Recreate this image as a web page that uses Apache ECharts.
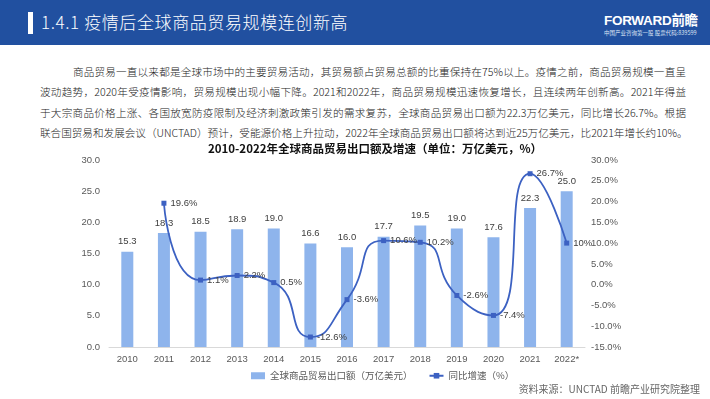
<!DOCTYPE html>
<html>
<head>
<meta charset="utf-8">
<script src="https://cdn.jsdelivr.net/npm/echarts@6/dist/echarts.min.js"></script>
<style>
  body { margin: 0; width: 710px; height: 399px; background: #fff; overflow: hidden; position: relative;
    font-family: "Noto Sans CJK SC", "Noto Sans", sans-serif; }
  .head { position: absolute; left: 0; top: 0; width: 710px; height: 45px; background: #2150a0; }
  .head .bar { position: absolute; left: 28px; top: 12px; width: 5px; height: 22px; background: #fff; }
  .head .title { position: absolute; left: 41px; top: 10px; color: #fff; font-size: 17px; line-height: 24px; letter-spacing: 0.6px; font-weight: 300; }
  .logo { position: absolute; left: 604px; top: 13px; color: #fff; font-weight: bold; font-size: 13.5px; line-height: 15px; white-space: nowrap; letter-spacing: -0.3px;
    font-family: "Liberation Sans", "Noto Sans CJK SC", sans-serif; }
  .logo-sub { position: absolute; left: 604px; top: 30px; color: #dfe6f5; font-size: 5.5px; line-height: 7px; white-space: nowrap; }
  .para { position: absolute; left: 40px; top: 62px; width: 646px; font-size: 10.6px; color: #222; font-weight: 300; }
  .para div { height: 20.3px; line-height: 20.3px; text-align: justify; text-align-last: justify; white-space: nowrap; }
  .para div.first { padding-left: 33px; }
  #chart { position: absolute; left: 0; top: 140px; width: 710px; height: 259px; }
  .src { position: absolute; right: 10px; top: 381px; font-size: 10px; color: #666; }
</style>
</head>
<body>
<div class="head"><div class="bar"></div><div class="title">1.4.1 疫情后全球商品贸易规模连创新高</div></div>
<div class="logo">FORWARD前瞻</div>
<div class="logo-sub">中国产业咨询第一股 股票代码:839599</div>
<div class="para">
  <div class="first">商品贸易一直以来都是全球市场中的主要贸易活动，其贸易额占贸易总额的比重保持在75%以上。疫情之前，商品贸易规模一直呈</div>
  <div>波动趋势，2020年受疫情影响，贸易规模出现小幅下降。2021和2022年，商品贸易规模迅速恢复增长，且连续两年创新高。2021年得益</div>
  <div>于大宗商品价格上涨、各国放宽防疫限制及经济刺激政策引发的需求复苏，全球商品贸易出口额为22.3万亿美元，同比增长26.7%。根据</div>
  <div>联合国贸易和发展会议（UNCTAD）预计，受能源价格上升拉动，2022年全球商品贸易出口额将达到近25万亿美元，比2021年增长约10%。</div>
</div>
<div id="chart"></div>
<div class="src">资料来源：UNCTAD 前瞻产业研究院整理</div>
<script>
// 年份
const years = ['2010', '2011', '2012', '2013', '2014', '2015', '2016', '2017', '2018', '2019', '2020', '2021', '2022*'];
// 全球商品贸易出口额（万亿美元）
const exportValues = [15.3, 18.3, 18.5, 18.9, 19.0, 16.6, 16.0, 17.7, 19.5, 19.0, 17.6, 22.3, 25.0];
// 同比增速（%），2010 无数据
const growthRates = [null, 19.6, 1.1, 2.2, 0.5, -12.6, -3.6, 10.6, 10.2, -2.6, -7.4, 26.7, 10];

const chart = echarts.init(document.getElementById('chart'));
const axisText = { color: '#595959', fontSize: 9.5, fontFamily: 'Liberation Sans, Arial, sans-serif' };

chart.setOption({
  animation: false,
  title: {
    text: '2010-2022年全球商品贸易出口额及增速（单位：万亿美元，%）',
    left: 370,
    textAlign: 'center',
    top: -2,
    textStyle: { fontSize: 11.5, fontWeight: 'bold', color: '#111', fontFamily: 'Noto Sans CJK SC' },
  },
  legend: {
    top: 226,
    left: 246,
    itemWidth: 14,
    itemHeight: 7,
    itemGap: 16,
    textStyle: { fontSize: 9.5, color: '#595959', fontFamily: 'Noto Sans CJK SC' },
    data: [
      { name: '全球商品贸易出口额（万亿美元）', icon: 'rect' },
      { name: '同比增速（%）' },
    ],
  },
  grid: { left: 109, right: 125, top: 20, bottom: 52 },
  xAxis: {
    type: 'category',
    data: years,
    axisTick: { show: false },
    axisLine: { lineStyle: { color: '#d9d9d9' } },
    axisLabel: Object.assign({ margin: 7 }, axisText),
  },
  yAxis: [
    {
      type: 'value',
      min: 0,
      max: 30,
      interval: 5,
      splitLine: { show: false },
      axisLabel: Object.assign({ margin: 9, formatter: v => v.toFixed(1) }, axisText),
    },
    {
      type: 'value',
      min: -15,
      max: 30,
      interval: 5,
      splitLine: { show: false },
      axisLabel: Object.assign({ margin: 6, formatter: v => v.toFixed(1) + '%' }, axisText),
    },
  ],
  series: [
    {
      name: '全球商品贸易出口额（万亿美元）',
      type: 'bar',
      data: exportValues,
      barWidth: 12,
      itemStyle: { color: '#8eb4ec' },
      label: {
        show: true,
        position: 'top',
        distance: 5,
        color: '#404040',
        fontSize: 9.5,
        fontFamily: 'Liberation Sans, Arial, sans-serif',
        formatter: p => p.value.toFixed(1),
      },
    },
    {
      name: '同比增速（%）',
      type: 'line',
      yAxisIndex: 1,
      data: growthRates,
      smooth: 0.6,
      symbol: 'rect',
      symbolSize: 5,
      lineStyle: { color: '#3c61c2', width: 1.8 },
      itemStyle: { color: '#3c61c2' },
      label: {
        show: true,
        position: 'right',
        distance: 4,
        color: '#404040',
        fontSize: 9.5,
        fontFamily: 'Liberation Sans, Arial, sans-serif',
        formatter: p => p.value + '%',
      },
      labelLayout: { hideOverlap: false },
    },
  ],
});
</script>
</body>
</html>
